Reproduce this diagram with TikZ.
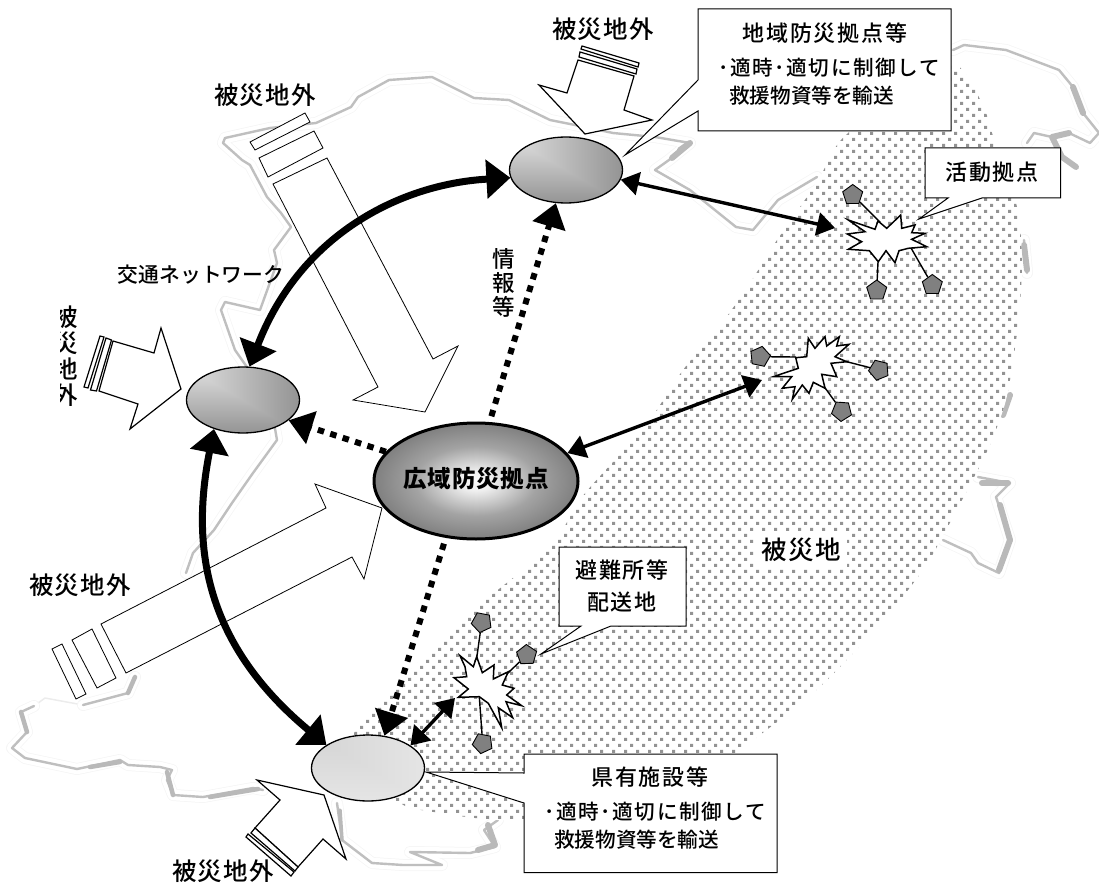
\documentclass[tikz,border=0pt]{standalone}
\usepackage{fontspec}
\usetikzlibrary{arrows.meta,shapes.geometric,patterns}
\newfontfamily\jpa[LetterSpace=8,UprightFont=* Medium]{Noto Sans CJK JP}
\newfontfamily\jpb[LetterSpace=5,UprightFont=* Medium]{Noto Sans CJK JP}
\newfontfamily\jpc[LetterSpace=0,UprightFont=* Medium]{Noto Sans CJK JP}
\newfontfamily\jpheavy[LetterSpace=4]{Noto Sans CJK JP}
\pgfdeclarepatternformonly{stip}{\pgfpoint{-1pt}{-1pt}}{\pgfpoint{13pt}{13pt}}{\pgfpoint{12pt}{12pt}}{
  \pgfpathrectangle{\pgfpoint{0pt}{0pt}}{\pgfpoint{3.1pt}{3.1pt}}
  \pgfpathrectangle{\pgfpoint{6pt}{6pt}}{\pgfpoint{3.1pt}{3.1pt}}
  \pgfusepath{fill}}
\pgfdeclarefunctionalshading{cornerdark}{\pgfpointorigin}{\pgfpoint{100bp}{100bp}}{}{
  100 exch sub 2 copy lt {exch} if pop 100 div 0.6 mul 1.03 exch sub dup 0.93 gt {pop 0.93} if dup dup}
\pgfdeclarefunctionalshading{cornerlight}{\pgfpointorigin}{\pgfpoint{100bp}{100bp}}{}{
  100 exch sub 2 copy lt {exch} if pop 100 div 0.13 mul 0.80 add dup dup}
\pgfdeclareradialshading{hubradial}{\pgfpointorigin}{color(0bp)=(gray!3); color(4bp)=(gray!12); color(15bp)=(gray!72); color(25bp)=(gray!100); color(50bp)=(black!58)}
\tikzset{
  coastpath/.style={draw=gray!50,line width=2.4pt,line join=round,line cap=round,
    preaction={draw=gray!8,line width=12pt,line join=round,line cap=round},
    preaction={draw=white,line width=10.5pt,line join=round,line cap=round}},
  coastfaint/.style={draw=gray!15,line width=1.5pt,line join=round,line cap=round},
  coastthick/.style={draw=gray!55,line width=6pt,line join=round,line cap=round},
  stipple/.style={pattern=stip,pattern color=gray!85,preaction={fill=white}},
  hub/.style={ellipse,draw=black,line width=1.3pt,inner sep=0pt,minimum width=113pt,minimum height=66pt,shade,shading=cornerdark},
  blockthin/.style={draw=black,fill=white,line width=.8pt,line join=miter},
  blockthick/.style={draw=black,fill=white,line width=1.2pt,line join=miter},
  bigarrow/.style={line width=7pt,{Triangle[length=24pt,width=38pt]}-{Triangle[length=24pt,width=38pt]}},
  medarrow/.style={line width=3.4pt,{Triangle[length=18pt,width=23pt]}-{Triangle[length=18pt,width=23pt]}},
  infoarrow/.style={line width=6pt,dash pattern=on 6.5pt off 6.5pt,-{Triangle[length=24pt,width=33pt]}},
  callout/.style={draw=black,fill=white,line width=1pt,line join=miter},
  burst/.style={draw=black,fill=white,line width=1.5pt,line join=miter},
  house/.style={regular polygon,regular polygon sides=5,draw=black,fill=gray,line width=.9pt,inner sep=0pt,minimum size=21pt},
  stem/.style={draw=black,line width=1.4pt},
  lbl/.style={font=\jpb\fontsize{24.5}{28}\selectfont,inner sep=0pt,text=black},
  boxtitle/.style={font=\jpa\fontsize{22}{26}\selectfont,inner sep=0pt,text=black},
  boxbody/.style={font=\jpc\fontsize{20.6}{25}\selectfont,inner sep=0pt,text=black},
  boxbodywide/.style={font=\jpa\fontsize{20.6}{25}\selectfont,inner sep=0pt,text=black},
}
\begin{document}
\begin{tikzpicture}[x=1pt,y=-1pt]
\useasboundingbox (0,0) rectangle (1099,885);
% coast
\draw[coastfaint] (83,705)--(45,698)--(34,706);
\draw[coastpath] (263,790)--(253,788)--(203,797)--(173,795)--(167,780)--(172,770)--(160,767)--(128,765)--(120,760)--(77,769)--(25,758)--(12,748)--(27,732)--(21,712)--(34,706);
\draw[coastpath] (83,705)--(128,693)--(135,677);
\draw[coastpath] (186,573)--(193,553)--(214,530)--(232,503)--(253,473)--(277,440)--(270,400)--(235,350)--(221,310)--(225,302)--(260,310)--(277,263)--(274,250)--(291,227)--(281,213)--(267,197)--(250,165)--(242,160)--(223,143)--(225,138)--(270,128)--(316,123)--(351,107)--(358,97)--(389,80)--(432,77)--(474,98)--(509,100)--(550,120)--(575,125)--(613,133)--(655,137)--(690,143)--(669,160)--(655,170)--(690,190)--(736,227)--(753,230)--(778,200)--(817,177);
\draw[coastpath] (337,803)--(342,840)--(372,863)--(403,865)--(442,865)--(410,852)--(470,853)--(495,847)--(484,830)--(498,820);
\draw[coastpath] (953,50)--(964,45)--(1006,50)--(1059,70)--(1073,87)--(1083,113)--(1099,133)--(1090,143)--(1069,133)--(1052,137)--(1034,133)--(1027,143);
\draw[coastpath] (1024,240)--(1027,273);
\draw[coastpath] (978,477)--(1010,483)--(996,497)--(1010,540)--(999,573)--(978,563)--(971,553)--(943,540);
\draw[coastthick] (1073,87)--(1083,113);
\draw[coastthick] (1069,133)--(1052,137)--(1062,157)--(1076,167);
\draw[coastthick] (1024,245)--(1027,270);
\draw[coastthick] (1010,395)--(1003,415);
\draw[coastthick] (982,483)--(1008,483);
\draw[coastthick] (1000,505)--(1010,540)--(999,570);
\draw[coastthick] (680,150)--(690,143)--(672,158);
\draw[coastthick] (478,850)--(495,845)--(488,825);
\draw[coastthick,line width=4.5pt] (128,693)--(135,677);
\draw[coastthick,line width=4.5pt] (21,712)--(27,732);
\draw[coastthick,line width=4.5pt] (90,767)--(120,762);
\draw[coastthick,line width=4.5pt] (167,772)--(173,795);
\draw[coastthick,line width=4.5pt] (210,797)--(258,789);
\draw[coastthick,line width=3.5pt] (340,810)--(342,840);
% stipple region
\path[stipple] plot[smooth cycle,tension=.45] coordinates {(841,140)(900,90)(953,63)(982,103)(992,133)(1017,207)(1022,267)(1017,333)(1006,400)(989,447)(971,483)(946,530)(925,567)(890,613)(859,647)(824,683)(789,713)(750,743)(700,790)(523,820)(421,810)(400,803)(340,765)(354,733)(400,680)(477,607)(550,547)(582,497)(624,450)(648,423)(683,370)(722,323)(750,283)(775,243)(796,213)(820,177)};
% long block arrows
\draw[blockthin] (250,142)--(305,113)--(310,122)--(255,150)--cycle;
\draw[blockthin] (259,158)--(314,131)--(323,148)--(268,177)--cycle;
\draw[blockthin] (273,184)--(327,158)--(433,359)--(458,346)--(425,412)--(353,400)--(378,387)--cycle;
\draw[blockthin] (52,649)--(62,644)--(86,694)--(76,699)--cycle;
\draw[blockthin] (72,640)--(92,629)--(116,678)--(97,688)--cycle;
\draw[blockthin] (101,624)--(326,508)--(315,484)--(382,508)--(364,579)--(352,557)--(126,673)--cycle;
% short block arrows
\draw[blockthick] (113,341)--(154,353)--(161,328)--(181,389)--(130,429)--(138,404)--(99,391)--cycle;
\draw[blockthick] (84,387)--(100,336)--(104,337)--(88,388)--cycle;
\draw[blockthick] (90.5,390)--(106,338)--(111.5,340)--(96.5,391)--cycle;
\draw[blockthick] (578,60)--(634,76)--(624,110)--(652,120)--(585,134)--(539,85)--(567,93)--cycle;
\draw[blockthick] (582,46)--(639,63)--(638,67)--(581,49)--cycle;
\draw[blockthick] (580,52)--(637,69)--(636,74)--(579,57)--cycle;
\draw[blockthick] (346,859)--(323,839)--(298,867)--(255,828)--(280,800)--(257,780)--(324,795)--cycle;
\draw[blockthick] (251,833)--(295,871)--(298,867)--(255,828)--cycle;
\draw[blockthick] (246,837)--(291,876)--(294,872)--(248,834)--cycle;
% callouts
\draw[callout] (698,9)--(951,9)--(951,131)--(698,131)--(698,111)--(625,155)--(698,80)--cycle;
\draw[callout] (925,148)--(1060.5,148)--(1060.5,198)--(982,198)--(919,219)--(948,198)--(925,198)--cycle;
\draw[callout] (559,547)--(686,547)--(686,626)--(611,626)--(541,654)--(581,626)--(559,626)--cycle;
\draw[callout] (524,754)--(777,754)--(777,872.7)--(524,872.7)--(524,803)--(426,772)--(524,773)--cycle;
% sites
\node[house] (ha1) at (852.7,195) {};
\node[house] (ha2) at (876.7,290.5) {};
\node[house] (ha3) at (932.3,285) {};
\node[house,rotate=60] (hb1) at (760,356.7) {};
\node[house,rotate=-50] (hb2) at (879,370) {};
\node[house,rotate=-40] (hb3) at (841.7,411) {};
\node[house,rotate=25] (hc1) at (481.7,622.3) {};
\node[house,rotate=-70] (hc2) at (526.7,655) {};
\node[house,rotate=25] (hc3) at (482.7,743.3) {};
\coordinate (sa1) at (880,222);\coordinate (sa2) at (878,262);\coordinate (sa3) at (911,248);
\coordinate (sb1) at (796,357);\coordinate (sb2) at (846.7,361.7);\coordinate (sb3) at (823,385);
\coordinate (sc1) at (476.7,658);\coordinate (sc2) at (508,673);\coordinate (sc3) at (479.3,697);
\draw[stem] (ha1)--(sa1);\draw[stem] (ha2)--(sa2);\draw[stem] (ha3)--(sa3);
\draw[stem] (hb1)--(sb1);\draw[stem] (hb2)--(sb2);\draw[stem] (hb3)--(sb3);
\draw[stem] (hc1)--(sc1);\draw[stem] (hc2)--(sc2);\draw[stem] (hc3)--(sc3);
\draw[burst] (848.3,220)--(875,229.3)--(878,221)--(886.7,228.3)--(900.7,215)--(901.7,228.3)--(915,225)--(911.7,232.7)--(925,233.3)--(911.7,239.3)--(926.7,246.7)--(908.3,248.3)--(899,250.7)--(895,262.7)--(886,250.7)--(878.3,261.7)--(869.3,250.7)--(848.3,249.3)--(861.7,241.7)--(847.3,234)--(865,231.7)--cycle;
\draw[burst] (808.3,338.3)--(815,348.3)--(825,336.7)--(826.7,346)--(839.3,336.7)--(836.7,346)--(849,344.3)--(835,356.7)--(846.7,361.7)--(831,363.3)--(836.7,376.7)--(821.7,374.3)--(825,388.3)--(813.3,382.3)--(809,393.3)--(802.3,385)--(792.3,399.3)--(795,386.7)--(782.3,388.3)--(791.7,376.7)--(773.3,376.7)--(798.3,368.3)--(795.7,357.7)--(806.7,356.7)--cycle;
\draw[burst] (460,655.7)--(473.3,666.7)--(476.7,656.7)--(482.3,672.7)--(494,665)--(493.3,679)--(508.3,671.7)--(502.3,685)--(514,688.3)--(506.7,695)--(521.7,705.7)--(506,701.7)--(512.7,717.7)--(498.3,707.7)--(501.7,727.7)--(488.3,703.3)--(479.3,696.7)--(458.3,697.3)--(468.3,689)--(454,677.7)--(466.7,676.7)--(465,666.7)--cycle;
% hubs
\node[hub] (eTop) at (566,170) {};
\node[hub] (eLeft) at (243,400) {};
\node[hub,shading=cornerlight] (eBot) at (368,768) {};
\node[ellipse,draw=black,line width=3pt,inner sep=0pt,minimum width=204pt,minimum height=116pt,shade,shading=hubradial] (eC) at (476,481) {};
\node[lbl,font=\jpheavy\bfseries\fontsize{23.5}{28}\selectfont] (tC) at (476,479) {広域防災拠点};
% connectors
\draw[bigarrow] (eTop.188) .. controls (400,184) and (300,235) .. (eLeft.79);
\draw[bigarrow] (eLeft.225) .. controls (192,540) and (200,640) .. (eBot.151);
\coordinate (tipa) at (835,228);
\coordinate (tipb) at (762,380);
\coordinate (tipc) at (455,698);
\draw[medarrow] (eTop.-10) -- (tipa);
\draw[medarrow] (eC.17) -- (tipb);
\draw[medarrow] (eBot.28) -- (tipc);
\draw[infoarrow,shorten <=6pt] (eC.77) -- (eTop.253);
\draw[infoarrow] (eC.162) -- (eLeft.-24);
\draw[infoarrow,shorten <=6pt] (eC.242) -- (eBot.63);
% labels
\node[lbl] (t1) at (265,95) {被災地外};
\node[lbl] (t2) at (603,29) {被災地外};
\node[lbl] (t3) at (80,585) {被災地外};
\node[lbl] (t4) at (223,871) {被災地外};
\begin{scope}
\clip (60,300) rectangle (90,415);
\node[lbl,font=\jpc\fontsize{24.5}{26}\selectfont,align=center] (t5) at (66,356) {被\\災\\地\\外};
\end{scope}
\node[lbl,font=\jpc\fontsize{20.8}{25}\selectfont] (t6) at (201,275) {交通ネットワーク};
\node[lbl,font=\jpc\fontsize{22.5}{24}\selectfont,align=center] (t7) at (504,283) {情\\報\\等};
\node[boxtitle] (b1a) at (825,33) {地域防災拠点等};
\node[boxbodywide,anchor=west] (b1b) at (718,68) {･適時･適切に制御して};
\node[boxbody,anchor=west] (b1c) at (729,96) {救援物資等を輸送};
\node[boxtitle] (b2) at (992,172) {活動拠点};
\node[boxtitle] (b3a) at (622,570) {避難所等};
\node[boxtitle] (b3b) at (622,602) {配送地};
\node[boxtitle,font=\jpb\fontsize{25.5}{28}\selectfont,fill=white,inner sep=6pt] (b5) at (801,550) {被災地};
\node[boxtitle] (b4a) at (650,777.5) {県有施設等};
\node[boxbodywide,anchor=west] (b4b) at (544,812) {･適時･適切に制御して};
\node[boxbody,anchor=west] (b4c) at (554,840) {救援物資等を輸送};
\end{tikzpicture}
\end{document}
